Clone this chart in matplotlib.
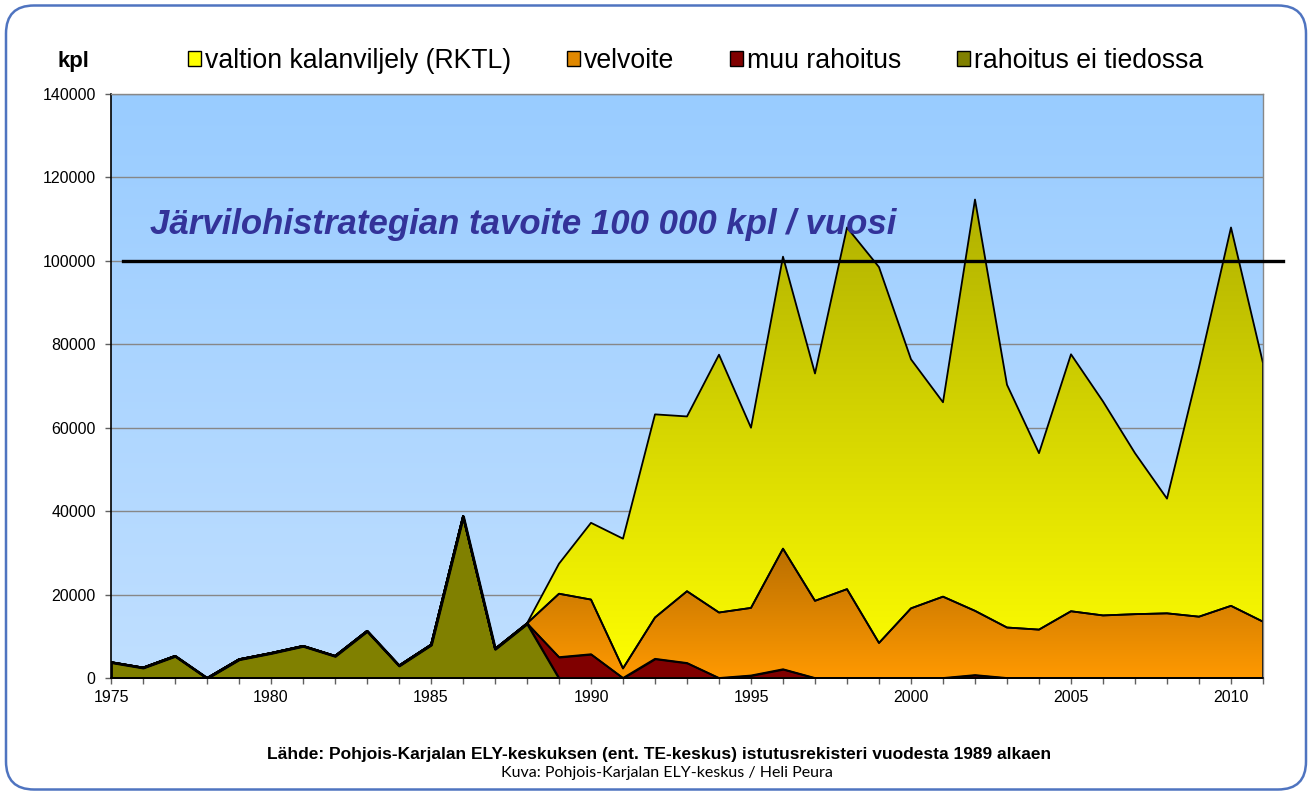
import matplotlib
matplotlib.use('Agg')
import matplotlib.pyplot as plt
import numpy as np
from matplotlib.patches import Patch, PathPatch, FancyBboxPatch
from matplotlib.colors import LinearSegmentedColormap
from matplotlib.ticker import FuncFormatter

plt.rcParams['font.family'] = ['Liberation Sans', 'DejaVu Sans']

# data (kpl per year)
years = [1975, 1976, 1977, 1978, 1979, 1980, 1981, 1982, 1983, 1984, 1985, 1986,
         1987, 1988, 1989, 1990, 1991, 1992, 1993, 1994, 1995, 1996, 1997, 1998,
         1999, 2000, 2001, 2002, 2003, 2004, 2005, 2006, 2007, 2008, 2009, 2010, 2011]

ei_tiedossa = [3800, 2500, 5300, 0, 4500, 6000, 7700, 5300, 11300, 3000, 8000, 38800,
               7000, 13100, 0, 0, 0, 0, 0, 0, 0, 0, 0, 0,
               0, 0, 0, 0, 0, 0, 0, 0, 0, 0, 0, 0, 0]
muu = [0, 0, 0, 0, 0, 0, 0, 0, 0, 0, 0, 0,
       0, 0, 5000, 5700, 0, 4600, 3600, 0, 600, 2100, 0, 0,
       0, 0, 0, 700, 0, 0, 0, 0, 0, 0, 0, 0, 0]
velvoite = [0, 0, 0, 0, 0, 0, 0, 0, 0, 0, 0, 0,
            0, 0, 15200, 13100, 2300, 9900, 17200, 15700, 16200, 28900, 18500, 21300,
            8400, 16700, 19500, 15400, 12100, 11600, 16000, 15000, 15300, 15500, 14700, 17300, 13500]
valtion = [0, 0, 0, 0, 0, 0, 0, 0, 0, 0, 0, 0,
           0, 0, 7200, 18400, 31100, 48700, 41900, 61800, 43200, 70000, 54500, 86700,
           90100, 59700, 46600, 98600, 58200, 42300, 61600, 51300, 38600, 27500, 59800, 90700, 62000]

labels = ['valtion kalanviljely (RKTL)', 'velvoite', 'muu rahoitus', 'rahoitus ei tiedossa']
TARGET = 100000
target_text = 'Järvilohistrategian tavoite 100 000 kpl / vuosi'

fig = plt.figure(figsize=(13.12, 7.92), dpi=100)
ax = fig.add_axes([111/1312, 1 - 678/792, 1152/1312, 584/792])

# plot area background gradient
bg = LinearSegmentedColormap.from_list('bg', ['#c0dfff', '#99ccff'])
ax.imshow(np.linspace(0, 1, 256).reshape(-1, 1), extent=[0, 1, 0, 1], transform=ax.transAxes,
          origin='lower', aspect='auto', cmap=bg, zorder=0)

polys = ax.stackplot(years, ei_tiedossa, muu, velvoite, valtion,
                     colors=['#808000', '#800000', '#ff9900', '#ffff00'],
                     edgecolor='black', linewidth=1.3, zorder=2)
polys[0].set_linewidth(2.0)

grads = {2: ('#ff9900', '#a86400'), 3: ('#ffff00', '#b0b000')}
for i, (c0, c1) in grads.items():
    poly = polys[i]
    path = poly.get_paths()[0]
    ymin, ymax = path.vertices[:, 1].min(), path.vertices[:, 1].max()
    poly.set_facecolor('none')
    cmap = LinearSegmentedColormap.from_list('g%d' % i, [c0, c1])
    im = ax.imshow(np.linspace(0, 1, 256).reshape(-1, 1), extent=[years[0], years[-1], ymin, ymax],
                   origin='lower', aspect='auto', cmap=cmap, zorder=1)
    clip = PathPatch(path, transform=ax.transData, facecolor='none', edgecolor='none')
    ax.add_patch(clip)
    im.set_clip_path(clip)

# target line and text
ax.axhline(TARGET, xmin=0.0104, xmax=1.0174, color='black', lw=2.4, clip_on=False, zorder=3)
ax.text(0.034, 0.760, target_text, transform=ax.transAxes, fontsize=25, fontweight='bold',
        fontstyle='italic', color='#333399', va='baseline', zorder=4)

ax.set_xlim(years[0], years[-1])
ax.set_ylim(0, 140000)
ax.set_xticks(years)
ax.set_xticklabels([str(y) if y % 5 == 0 else '' for y in years])
ax.set_yticks(range(0, 140001, 20000))
ax.yaxis.set_major_formatter(FuncFormatter(lambda v, p: '%d' % v))
ax.yaxis.grid(True, color='#878787', lw=1)
ax.set_axisbelow(True)
ax.tick_params(axis='both', direction='out', length=4, width=1, color='#606060', labelsize=11.5)
ax.tick_params(axis='x', pad=5)
ax.tick_params(axis='y', pad=7)
for s in ['left', 'bottom']:
    ax.spines[s].set_color('black')
    ax.spines[s].set_linewidth(1.2)
for s in ['top', 'right']:
    ax.spines[s].set_color('#888888')
    ax.spines[s].set_linewidth(1)

# legend
handles = [Patch(facecolor=c, edgecolor='black', lw=1)
           for c in ['#ffff00', '#e08800', '#800000', '#808000']]
fig.legend(handles, labels, ncol=4, loc='center left', bbox_to_anchor=(188/1312, 1 - 61/792),
           frameon=False, fontsize=19.2, handlelength=0.5, handleheight=0.5, handletextpad=0.15,
           columnspacing=2.08, borderpad=0, borderaxespad=0)
fig.text(73/1312, 1 - 67/792, 'kpl', fontsize=16, fontweight='bold', ha='center', va='baseline')

# footer
fig.text(659/1312, 1 - 755/792, 'Lähde: Pohjois-Karjalan ELY-keskuksen (ent. TE-keskus) istutusrekisteri vuodesta 1989 alkaen',
         ha='center', va='center', fontsize=12.5, fontweight='bold')
fig.text(667/1312, 1 - 773/792, 'Kuva: Pohjois-Karjalan ELY-keskus / Heli Peura',
         ha='center', va='center', fontsize=11.5, family=['Lato', 'DejaVu Sans'])

# rounded frame
frame = FancyBboxPatch((0.06, 0.025), 13.0, 7.84, boxstyle='round,pad=0,rounding_size=0.28',
                       transform=fig.dpi_scale_trans, facecolor='none', edgecolor='#4f74c0', lw=1.8)
fig.patches.append(frame)

fig.savefig('out.png', dpi=100)
